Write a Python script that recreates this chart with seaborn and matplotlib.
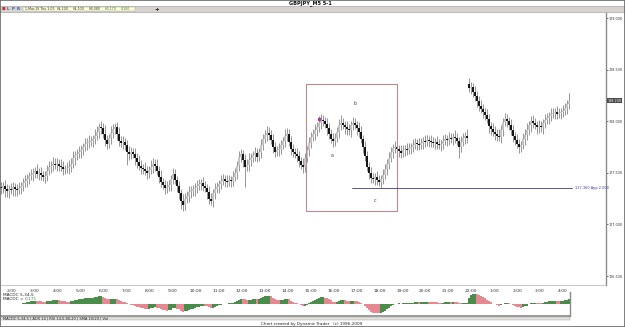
import numpy as np
import pandas as pd
import matplotlib
matplotlib.use("Agg")
import matplotlib.pyplot as plt
import matplotlib.transforms as mtrans
from matplotlib.patches import Rectangle
import seaborn as sns

sns.set_style("white")
plt.rcParams['font.family'] = ['DejaVu Sans']

# ---------------- data (GBPJPY M5 closes) ----------------
close = [
    127.35, 127.37, 127.34, 127.32, 127.34, 127.33, 127.36, 127.34, 127.33, 127.35, 127.37, 127.40, 127.42, 127.44, 127.47,
    127.48, 127.50, 127.52, 127.49, 127.50, 127.48, 127.46, 127.47, 127.52, 127.56, 127.57, 127.59, 127.58, 127.59, 127.57,
    127.56, 127.54, 127.54, 127.55, 127.56, 127.59, 127.64, 127.67, 127.68, 127.70, 127.72, 127.75, 127.78, 127.79, 127.80,
    127.81, 127.83, 127.86, 127.90, 127.94, 127.93, 127.88, 127.82, 127.78, 127.84, 127.89, 127.92, 127.94, 127.88, 127.81,
    127.79, 127.80, 127.77, 127.70, 127.68, 127.70, 127.68, 127.64, 127.60, 127.57, 127.55, 127.54, 127.52, 127.50, 127.53,
    127.56, 127.59, 127.57, 127.52, 127.46, 127.41, 127.38, 127.35, 127.36, 127.38, 127.44, 127.49, 127.43, 127.37, 127.30,
    127.23, 127.19, 127.25, 127.28, 127.31, 127.32, 127.34, 127.35, 127.37, 127.39, 127.40, 127.37, 127.35, 127.31, 127.25,
    127.23, 127.30, 127.34, 127.36, 127.39, 127.42, 127.44, 127.42, 127.41, 127.43, 127.42, 127.46, 127.50, 127.57, 127.65,
    127.68, 127.62, 127.56, 127.58, 127.62, 127.64, 127.67, 127.69, 127.65, 127.70, 127.77, 127.83, 127.87, 127.89, 127.87,
    127.82, 127.75, 127.70, 127.72, 127.73, 127.77, 127.81, 127.86, 127.88, 127.80, 127.73, 127.70, 127.68, 127.66, 127.61,
    127.58, 127.56, 127.64, 127.72, 127.79, 127.85, 127.88, 127.91, 127.94, 127.98, 128.01, 128.00, 127.97, 127.93, 127.88,
    127.83, 127.81, 127.84, 127.90, 127.96, 127.98, 127.96, 127.94, 127.92, 127.91, 127.96, 127.98, 127.96, 127.93, 127.90,
    127.83, 127.75, 127.66, 127.56, 127.50, 127.45, 127.44, 127.46, 127.43, 127.41, 127.44, 127.48, 127.54, 127.59, 127.64,
    127.70, 127.74, 127.75, 127.73, 127.71, 127.69, 127.72, 127.73, 127.72, 127.74, 127.75, 127.77, 127.79, 127.78, 127.77,
    127.79, 127.81, 127.80, 127.82, 127.81, 127.80, 127.79, 127.80, 127.78, 127.77, 127.78, 127.81, 127.83, 127.82, 127.84,
    127.83, 127.85, 127.84, 127.81, 127.75, 127.80, 127.84, 127.86, 127.84, 128.32, 128.33, 128.28, 128.24, 128.20, 128.15,
    128.12, 128.09, 128.06, 128.02, 127.95, 127.92, 127.90, 127.88, 127.86, 127.85, 127.91, 127.99, 128.02, 128.00, 127.96,
    127.91, 127.86, 127.82, 127.78, 127.75, 127.77, 127.83, 127.87, 127.91, 127.96, 128.00, 127.98, 127.96, 127.94, 127.95,
    127.94, 127.98, 128.01, 128.03, 128.05, 128.07, 128.08, 128.09, 128.07, 128.08, 128.09, 128.10, 128.13, 128.17, 128.20,
]
# wick extents beyond the candle body, in pips (0.01 JPY)
wick_up = [
    5, 4, 6, 5, 4, 6, 5, 4, 5, 6, 4, 5, 6, 5, 4,
    6, 5, 4, 7, 5, 6, 4, 5, 6, 5, 4, 6, 5, 5, 4,
    6, 5, 4, 5, 6, 5, 7, 4, 5, 6, 5, 4, 6, 5, 7,
    5, 4, 6, 5, 4, 6, 5, 8, 5, 4, 6, 5, 4, 5, 6,
    5, 6, 4, 5, 6, 5, 4, 6, 5, 7, 5, 4, 6, 5, 4,
    6, 5, 4, 6, 5, 7, 4, 5, 6, 5, 4, 6, 5, 4, 5,
    4, 6, 5, 4, 6, 5, 4, 5, 6, 5, 4, 6, 5, 4, 6,
    5, 4, 6, 5, 4, 6, 5, 4, 6, 5, 4, 6, 5, 4, 6,
    5, 4, 6, 5, 7, 5, 4, 6, 5, 4, 6, 5, 4, 6, 5,
    4, 6, 5, 4, 6, 5, 4, 6, 5, 4, 6, 5, 4, 6, 5,
    4, 6, 5, 4, 6, 5, 4, 6, 5, 7, 6, 5, 4, 6, 5,
    4, 6, 5, 4, 6, 8, 5, 4, 6, 5, 4, 6, 5, 4, 6,
    5, 4, 6, 5, 4, 6, 5, 4, 6, 5, 4, 6, 5, 4, 6,
    5, 4, 6, 5, 4, 6, 5, 4, 6, 5, 4, 6, 5, 4, 6,
    5, 4, 6, 5, 4, 6, 5, 4, 6, 5, 4, 6, 5, 4, 6,
    5, 4, 6, 5, 4, 6, 5, 4, 6, 6, 5, 4, 6, 5, 4,
    6, 5, 4, 6, 5, 4, 6, 5, 4, 6, 5, 4, 6, 5, 4,
    6, 5, 4, 6, 5, 4, 6, 5, 7, 4, 5, 6, 5, 4, 6,
    5, 4, 6, 5, 4, 6, 5, 4, 6, 5, 4, 6, 5, 4, 7,
]
wick_dn = [
    6, 5, 7, 5, 6, 4, 5, 6, 5, 4, 6, 5, 4, 6, 5,
    4, 6, 5, 4, 6, 5, 4, 6, 5, 4, 6, 5, 4, 6, 5,
    4, 6, 5, 4, 6, 5, 4, 6, 5, 4, 6, 5, 4, 6, 5,
    4, 6, 5, 4, 6, 5, 4, 6, 5, 4, 6, 5, 4, 6, 5,
    4, 6, 5, 12, 6, 5, 4, 6, 5, 4, 6, 5, 4, 6, 5,
    4, 6, 5, 4, 6, 5, 4, 6, 5, 4, 6, 5, 4, 6, 5,
    8, 6, 5, 4, 6, 5, 4, 6, 5, 4, 6, 5, 4, 6, 5,
    4, 6, 5, 4, 6, 5, 4, 6, 5, 4, 6, 5, 4, 6, 5,
    5, 6, 20, 4, 6, 5, 4, 6, 5, 4, 6, 5, 4, 6, 5,
    4, 6, 5, 4, 6, 5, 4, 6, 5, 4, 6, 5, 4, 6, 5,
    4, 6, 5, 4, 6, 5, 4, 6, 5, 4, 6, 5, 4, 6, 5,
    4, 6, 5, 4, 6, 5, 4, 6, 5, 4, 6, 5, 4, 6, 5,
    4, 6, 5, 4, 6, 5, 4, 6, 5, 4, 6, 5, 4, 6, 5,
    4, 6, 5, 4, 6, 5, 4, 6, 5, 4, 6, 5, 4, 6, 5,
    4, 6, 5, 4, 6, 5, 4, 6, 5, 4, 6, 5, 4, 6, 5,
    4, 6, 5, 4, 11, 5, 4, 6, 5, 4, 6, 5, 4, 6, 5,
    4, 6, 5, 4, 6, 5, 4, 6, 5, 4, 6, 5, 4, 6, 5,
    4, 6, 5, 4, 6, 5, 4, 6, 5, 4, 6, 5, 4, 6, 5,
    4, 6, 5, 4, 6, 5, 4, 6, 5, 4, 6, 5, 4, 6, 5,
]
first_open = 127.36
gap_open = {234: 128.36}          # session gap at 22:00
hour_labels = ["2:00", "3:00", "4:00", "5:00", "6:00", "7:00", "8:00", "9:00", "10:00", "11:00",
               "12:00", "13:00", "14:00", "15:00", "16:00", "17:00", "18:00", "19:00", "20:00",
               "21:00", "22:00", "1:00", "2:00", "3:00", "4:00"]
price_ticks = [129.0, 128.5, 128.0, 127.5, 127.0, 126.5]
last_price = 128.20
app_level = 127.353
box_x = [152.5, 198.0]
box_y = [127.133, 128.365]
wave_labels = ["a", "b", "c"]
wave_x = [165.5, 177.0, 187.0]
wave_y = [127.67, 128.17, 127.23]

n = len(close)
idx = np.arange(n)
opens = [first_open] + close[:-1]
for k, v in gap_open.items():
    opens[k] = v
o = np.array(opens); c = np.array(close)
hi = np.maximum(o, c) + np.array(wick_up) / 100.0
lo = np.minimum(o, c) - np.array(wick_dn) / 100.0

# MACD 5,34 from closes
s = pd.Series(close)
macd = (s.ewm(span=5, adjust=False).mean() - s.ewm(span=34, adjust=False).mean()).values
direction = np.where(np.diff(macd, prepend=macd[0]) >= 0, "up", "down")

# ---------------- figure ----------------
W, H = 625, 327
fig = plt.figure(figsize=(W / 100, H / 100), dpi=100)
fig.patch.set_facecolor("white")

def fx(x): return x / W
def fy(y): return 1 - y / H

AX_R = 606
# main price axes
ax = fig.add_axes([fx(0), fy(285), fx(AX_R), (285 - 13) / H])
ax.set_facecolor("white")
ax.vlines(idx, lo, hi, color="#858585", lw=0.6, zorder=2)
body_lo = np.minimum(o, c); body_hi = np.maximum(o, c)
body_hi = np.where(body_hi - body_lo < 0.006, body_lo + 0.006, body_hi)
cols = np.where(c < o, "#111111", "#c4c4c4")
ax.vlines(idx, body_lo, body_hi, colors=cols, lw=1.4, zorder=3)
# highlighted peak bar
ax.plot([159], [hi[159] - 0.03], marker="s", ms=1.6, color="#a03ca0", zorder=4)

ax.set_xlim(-0.5, -0.5 + AX_R / 2)
ax.set_ylim(129.0 - (285 - 18) / 103.2, 129.0 + 5 / 103.2)

# annotation box and level line
ax.add_patch(Rectangle((box_x[0], box_y[0]), box_x[1] - box_x[0], box_y[1] - box_y[0],
                       fill=False, ec="#c08890", lw=0.8, zorder=5))
ax.plot([175.5, 285.5], [app_level, app_level], color="#3a3a8a", lw=0.6, zorder=5)
ax.text(287, app_level, "127.360 App 2.000", fontsize=2.5, color="#3a3aa8", va="center", ha="left")
for t, xx, yy in zip(wave_labels, wave_x, wave_y):
    ax.text(xx, yy, t, fontsize=3.4, color="#444444", ha="center", va="center")

# axes styling
ax.yaxis.tick_right()
ax.set_yticks(price_ticks)
ax.set_yticklabels([f"{p:.3f}" for p in price_ticks])
ax.tick_params(axis="y", labelsize=2.4, length=1.2, pad=0.5, colors="#333333", width=0.5)
tick_pos = [5.5 + 11.48 * k for k in range(len(hour_labels))]
ax.set_xticks(tick_pos)
ax.set_xticklabels(hour_labels)
ax.tick_params(axis="x", labelsize=3.2, length=1.5, pad=1.2, colors="#333333", width=0.5)
for sp in ["top", "left"]:
    ax.spines[sp].set_visible(False)
ax.spines["right"].set_color("#8a8a8a"); ax.spines["right"].set_linewidth(1.0)
ax.spines["bottom"].set_color("#b0b0b0"); ax.spines["bottom"].set_linewidth(0.5)
ax.grid(False)
tr = mtrans.blended_transform_factory(ax.transAxes, ax.transData)
ax.text(1.003, last_price, "128.200", transform=tr, fontsize=2.4, color="white", va="center", ha="left",
        bbox=dict(fc="#4a4a4a", ec="none", pad=0.5), zorder=6)

# MACD panel
ax2 = fig.add_axes([fx(0), fy(316), fx(570), (316 - 292) / H])
dfm = pd.DataFrame({"i": idx, "macd": macd, "dir": direction})
sns.barplot(data=dfm, x="i", y="macd", hue="dir", palette={"up": "#4a8c4a", "down": "#e58892"},
            native_scale=True, dodge=False, width=0.6, legend=False, errorbar=None,
            saturation=1, linewidth=0, ax=ax2)
m = np.abs(macd).max()
ax2.set_xlim(-0.5, -0.5 + 570 / 2)
ax2.set_ylim(-m * 1.15, m * 1.15)
ax2.set_xticks([]); ax2.set_yticks([])
ax2.set_xlabel(""); ax2.set_ylabel("")
for sp in ["top", "left"]:
    ax2.spines[sp].set_visible(False)
ax2.spines["right"].set_color("#8a8a8a"); ax2.spines["right"].set_linewidth(1.0)
ax2.spines["bottom"].set_color("#8a8a8a"); ax2.spines["bottom"].set_linewidth(1.2)
fig.text(fx(3), fy(295), "MACDC 5,34,5", fontsize=3.1, color="#222222", va="center")
fig.text(fx(3), fy(299.5), "MACDC =", fontsize=3.1, color="#222222", va="center")
fig.text(fx(25), fy(299.5), "0.171", fontsize=3.1, color="#3a8a3a", va="center")

# header: title bar and toolbar
fig.text(fx(310), fy(3.2), "GBPJPY_M5 5-1", fontsize=3.6, fontweight="bold", ha="center", va="center",
         color="#111111")
fig.add_artist(Rectangle((fx(0), fy(12)), 1, 6 / H, transform=fig.transFigure, fc="#d6d3ce", ec="#9a9a9a",
                         lw=0.4))
fig.add_artist(Rectangle((fx(23), fy(11.3)), fx(112), 4.3 / H, transform=fig.transFigure, fc="#ffffd8",
                         ec="#a0a0a0", lw=0.3))
info = [(25, "1-Mar-10 Thu 1:05", "#333333"), (57, "H1.200", "#333333"), (73, "H1.100", "#333333"),
        (89, "H0.080", "#333333"), (105, "H0.170", "#3a7a3a"), (121, "0.100", "#3a7a3a")]
for xx, t, col in info:
    fig.text(fx(xx), fy(9.2), t, fontsize=2.3, color=col, va="center")
for xx, col, t in [(3, "#d03030", "■"), (8, "#3050b0", "L"), (13, "#3050b0", "P"), (18, "#3050b0", "R")]:
    fig.text(fx(xx), fy(9.2), t, fontsize=2.8, color=col, va="center", ha="center", fontweight="bold")
fig.text(fx(157), fy(9.2), "+", fontsize=4, color="#111111", va="center", ha="center", fontweight="bold")

# footer: indicator tabs and status line
fig.add_artist(Rectangle((fx(0), fy(320)), fx(570), 3.5 / H, transform=fig.transFigure, fc="#e4e1dc",
                         ec="#9a9a9a", lw=0.3))
fig.text(fx(3), fy(318.2), "MACDC 5,34,5 | ADX 14 | RSI 14,5,80,20 | SMA 10/20 | Vol", fontsize=2.6,
         color="#222222", va="center")
fig.text(fx(312), fy(323.5), "Chart created by Dynamic Trader   (c) 1996-2009", fontsize=3.0, color="#222222",
         va="center", ha="center")

# outer frame
fig.add_artist(Rectangle((0, 0), 1, 1, transform=fig.transFigure, fill=False, ec="#6a6a6a", lw=1.2))

fig.savefig("out.png", dpi=100)
